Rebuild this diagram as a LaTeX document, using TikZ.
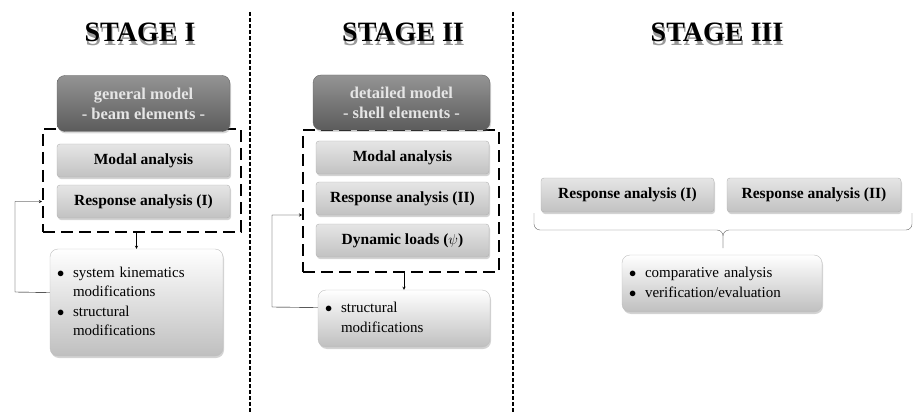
\documentclass[tikz,border=0pt]{standalone}
\usepackage{fontspec}
\setmainfont{Liberation Serif}
\usetikzlibrary{shadows}

\begin{document}
\begin{tikzpicture}[x=1pt, y=-1pt,
    title/.style={font=\fontsize{28}{30}\selectfont\bfseries},
    divider/.style={line width=1.5pt, dash pattern=on 4pt off 2pt},
    groupbox/.style={draw, line width=2pt, dash pattern=on 12pt off 6pt, inner sep=0pt},
    modelbox/.style={rectangle, rounded corners=8pt, draw=black!60, top color=black!42, bottom color=black!64, text=black!10, align=center, inner sep=0pt, minimum width=175pt, minimum height=56pt, font=\fontsize{16.5}{20}\selectfont\bfseries, drop shadow={opacity=0.3, shadow xshift=1pt, shadow yshift=-2pt}},
    stagebox/.style={rectangle, rounded corners=3pt, draw=black!30, top color=black!10, middle color=black!5, bottom color=black!24, inner sep=0pt, minimum width=173pt, minimum height=33pt, font=\fontsize{15.5}{17}\selectfont\bfseries, drop shadow={opacity=0.35, shadow xshift=1pt, shadow yshift=-2pt}},
    notebox/.style={rectangle, rounded corners=8pt, draw=black!25, top color=white, bottom color=black!25, inner xsep=7pt, inner ysep=0pt, align=left, font=\fontsize{15}{19.5}\selectfont, drop shadow={opacity=0.35, shadow xshift=1pt, shadow yshift=-2pt}}]
    \useasboundingbox (0,0) rectangle (917,414);

    \draw[divider] (250,12) -- (250,414);
    \draw[divider] (513,12) -- (513,414);

    \node[title] (t1) at (140,34) {\rlap{\hspace{1pt}\raisebox{-4pt}{\color{black!40}STAGE I}}STAGE I};
    \node[title] (t2) at (403,34) {\rlap{\hspace{1pt}\raisebox{-4pt}{\color{black!40}STAGE II}}STAGE II};
    \node[title] (t3) at (717,34) {\rlap{\hspace{1pt}\raisebox{-4pt}{\color{black!40}STAGE III}}STAGE III};

    \node[groupbox, minimum width=198pt, minimum height=103pt] (d1) at (142,180.5) {};
    \node[modelbox, minimum width=173pt] (g1) at (143.5,103.5) {general model\\- beam elements -};
    \node[stagebox] (m1) at (143.5,160.5) {Modal analysis};
    \node[stagebox] (r1) at (143.5,201.5) {Response analysis (I)};
    \node[notebox, minimum height=107pt, text width=159pt] (b1) at (136.5,302.5) {\begin{tabular}{@{}p{10pt}@{\hspace{6pt}}l@{}}
        $\bullet$ & system kinematics\\ & modifications\\
        $\bullet$ & structural\\ & modifications
      \end{tabular}};
    \coordinate (l1) at (15,292);
    \draw[-stealth] (d1.south -| b1.north) -- (b1.north);
    \draw[-stealth] ([yshift=10pt]b1.west) -- (l1) |- (d1.west |- r1.west);

    \node[groupbox, minimum width=196pt, minimum height=142pt] (d2) at (401,201) {};
    \node[modelbox, minimum width=177pt, minimum height=55pt] (g2) at (401.5,102.5) {detailed model\\- shell elements -};
    \node[stagebox] (m2) at (402.5,157.5) {Modal analysis};
    \node[stagebox] (r2) at (402.5,198.5) {Response analysis (II)};
    \node[stagebox] (y2) at (402.5,240.5) {Dynamic loads ($\psi$)};
    \node[notebox, minimum height=57pt, text width=158pt] (b2) at (404,318.5) {\begin{tabular}{@{}p{10pt}@{\hspace{6pt}}l@{}}
        $\bullet$ & structural\\ & modifications
      \end{tabular}};
    \coordinate (l2) at (272,307);
    \draw[-stealth] (d2.south -| b2.north) -- (b2.north);
    \draw[-stealth] ([yshift=11pt]b2.west) -- (l2) |- ([yshift=-14pt]d2.west);

    \node[stagebox, minimum height=34pt] (s1) at (627.5,195) {Response analysis (I)};
    \node[stagebox, minimum height=34pt, minimum width=174pt] (s2) at (814,195) {Response analysis (II)};
    \node[notebox, minimum width=200pt, minimum height=57pt, text width=186pt] (b3) at (722,283.5) {\begin{tabular}{@{}p{10pt}@{\hspace{6pt}}l@{}}
        $\bullet$ & comparative analysis\\
        $\bullet$ & verification/evaluation
      \end{tabular}};
    \coordinate (k1) at (534,213);
    \coordinate (k2) at (912,213);
    \coordinate (k4) at (723,230);
    \coordinate (k3) at (723,248);
    \draw[black!60, rounded corners=6pt] (k1) |- (k4) -- (k3);
    \draw[black!60, rounded corners=6pt] (k2) |- (k4) -- (k3);
  \end{tikzpicture}
\end{document}
